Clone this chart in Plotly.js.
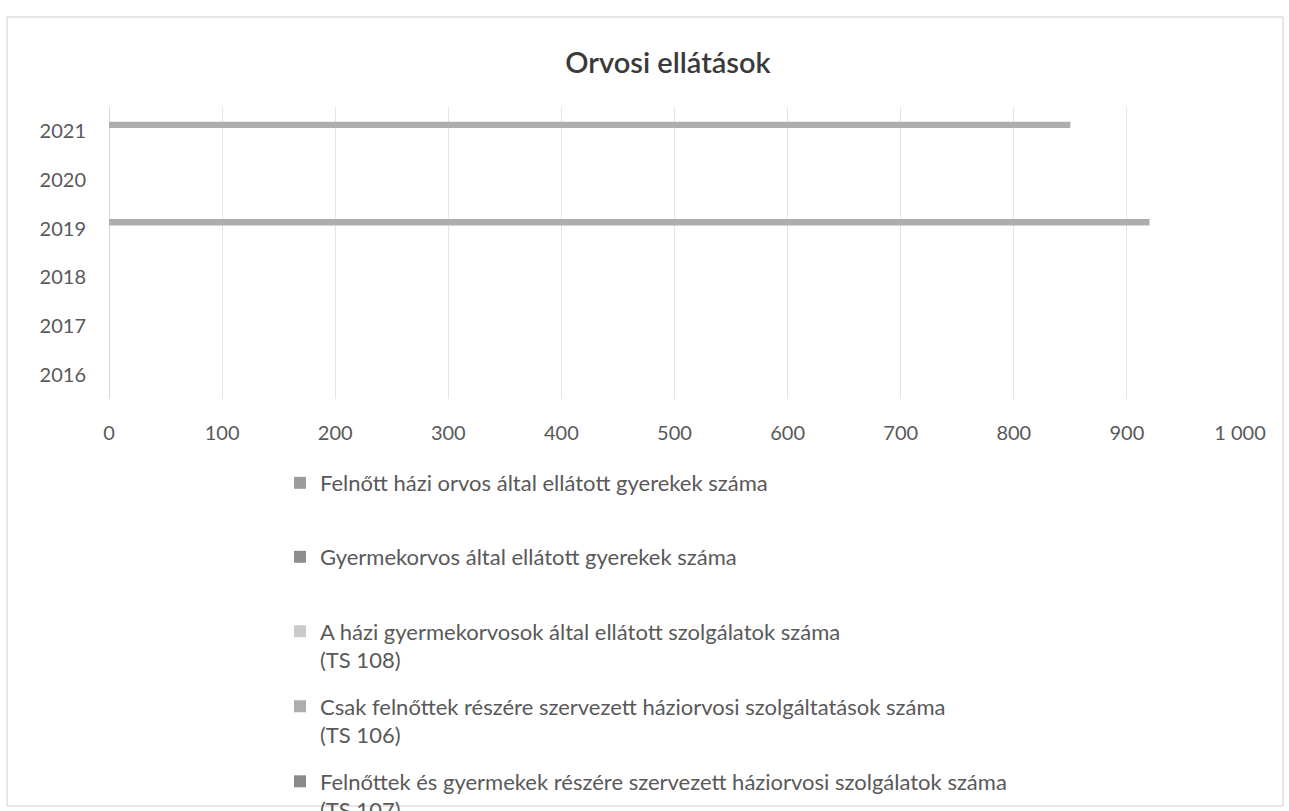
<!DOCTYPE html>
<html>
<head>
<meta charset="utf-8">
<script src="https://cdn.plot.ly/plotly-3.0.1.min.js"></script>
<style>html,body{margin:0;padding:0;background:#fff;}#chart{width:1289px;height:811px;}</style>
</head>
<body>
<div id="chart"></div>
<script>
// ---- data ----
const years = ['2016', '2017', '2018', '2019', '2020', '2021'];
const seriesNames = [
  'Felnőtt házi orvos által ellátott gyerekek száma',
  'Gyermekorvos által ellátott gyerekek száma',
  'A házi gyermekorvosok által ellátott szolgálatok száma<br>(TS 108)',
  'Csak felnőttek részére szervezett háziorvosi szolgáltatások száma<br>(TS 106)',
  'Felnőttek és gyermekek részére szervezett háziorvosi szolgálatok száma<br>(TS 107)'
];
const felnottHaziGyerek   = [null, null, null, null, null, null];
const gyermekorvosGyerek  = [null, null, null, null, null, null];
const ts108               = [null, null, null, null, null, null];
const ts106               = [null, null, null, 920, null, 850];
const ts107               = [null, null, null, null, null, null];
const xTicks = [0, 100, 200, 300, 400, 500, 600, 700, 800, 900, 1000];

const seriesValues = [felnottHaziGyerek, gyermekorvosGyerek, ts108, ts106, ts107];
const seriesColors = ['#9c9c9c', '#8e8e8e', '#cacaca', '#adadad', '#8a8a8a'];

// ---- geometry helpers (plot area in px) ----
const W = 1289, H = 811;
const plotL = 109, plotR = 1240, plotT = 107, plotB = 399;
const px2x = p => (p - plotL) / (plotR - plotL);
const px2y = p => (plotB - p) / (plotB - plotT);

const legendIds = ['legend', 'legend2', 'legend3', 'legend4', 'legend5'];
const legendCenters = [483, 557, 646, 721, 796];

const traces = seriesNames.map((name, i) => ({
  type: 'bar',
  orientation: 'h',
  name: name,
  y: years,
  x: seriesValues[i],
  marker: {color: seriesColors[i]},
  legend: legendIds[i],
  hoverinfo: 'x+y+name'
}));

const fontFam = 'Lato, "Open Sans", sans-serif';
const layout = {
  width: W, height: H,
  paper_bgcolor: '#ffffff', plot_bgcolor: '#ffffff',
  separators: ', ',
  font: {family: fontFam, color: '#595959', size: 17},
  margin: {l: plotL, r: W - plotR, t: plotT, b: H - plotB, pad: 0, autoexpand: false},
  title: {
    text: 'Orvosi ellátások',
    font: {family: fontFam, size: 29, color: '#3a3a3a', weight: 600},
    xref: 'container', x: 668 / W, xanchor: 'center',
    yref: 'container', y: 1 - 63 / H, yanchor: 'middle'
  },
  barmode: 'group',
  bargap: 0.34,
  bargroupgap: 0,
  xaxis: {
    range: [0, 1000],
    tickvals: xTicks,
    tickformat: ',d',
    showgrid: true, gridcolor: '#e4e4e4', gridwidth: 1,
    zeroline: true, zerolinecolor: '#d8d8d8', zerolinewidth: 1,
    showline: false,
    ticks: '', ticklabelstandoff: 20,
    tickfont: {family: fontFam, size: 20, color: '#595959'},
    fixedrange: true
  },
  yaxis: {
    type: 'category',
    categoryorder: 'array', categoryarray: years,
    showgrid: false, showline: false, zeroline: false,
    ticks: '', ticklabelstandoff: 22,
    tickfont: {family: fontFam, size: 20, color: '#595959'},
    fixedrange: true
  },
  shapes: [{
    type: 'rect', xref: 'paper', yref: 'paper',
    x0: px2x(7), x1: px2x(1283), y0: px2y(806), y1: px2y(17),
    line: {color: '#cfcfcf', width: 1}, fillcolor: 'rgba(0,0,0,0)', layer: 'below'
  }],
  showlegend: true
};

legendIds.forEach((id, i) => {
  layout[id] = {
    x: px2x(280), xanchor: 'left',
    y: px2y(legendCenters[i]), yanchor: 'middle',
    orientation: 'v',
    valign: 'top',
    bgcolor: 'rgba(0,0,0,0)',
    borderwidth: 0,
    font: {family: fontFam, size: 22, color: '#595959'},
    itemclick: false, itemdoubleclick: false
  };
});

Plotly.newPlot('chart', traces, layout, {displayModeBar: false, staticPlot: true});
</script>
</body>
</html>
